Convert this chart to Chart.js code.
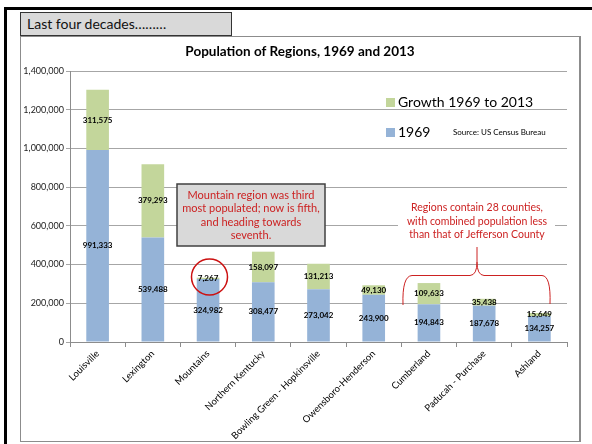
<!DOCTYPE html>
<html>
<head>
<meta charset="utf-8">
<script src="https://cdn.jsdelivr.net/npm/chart.js@4.4.1/dist/chart.umd.min.js"></script>
<style>
  body { margin: 0; width: 592px; height: 444px; overflow: hidden; background: #fff; font-family: Lato, sans-serif; }
  #outer { position: absolute; left: 4px; top: 7px; width: 620px; height: 460px; border-left: 3px solid #000; border-top: 3px solid #000; }
  #frame { position: absolute; left: 20px; top: 36px; width: 558px; height: 404px; border: 1px solid #8c8c8c; border-right-width: 2px; }
  #head { position: absolute; left: 20px; top: 12px; width: 212px; height: 24px; box-sizing: border-box; background: #d9d9d9; border: 1.5px solid #333; font-size: 14px; line-height: 21px; padding-left: 6px; color: #111; }
  #wrap { position: absolute; left: 0; top: 0; width: 592px; height: 444px; }
</style>
</head>
<body>
<div id="outer"></div>
<div id="frame"></div>
<div id="head">Last four decades………</div>
<div id="wrap"><canvas id="chart" width="592" height="444"></canvas></div>
<script>
const regions = ['Louisville', 'Lexington', 'Mountains', 'Northern Kentucky', 'Bowling Green - Hopkinsville',
  'Owensboro-Henderson', 'Cumberland', 'Paducah - Purchase', 'Ashland'];
const pop1969 = [991333, 539488, 324982, 308477, 273042, 243900, 194843, 187678, 134257];
const growth = [311575, 379293, 7267, 158097, 131213, 49130, 109633, 35438, 15649];

const fmt = v => v.toLocaleString('en-US');

// value labels in the middle of each segment
const valueLabels = {
  id: 'valueLabels',
  afterDatasetsDraw(chart) {
    const ctx = chart.ctx;
    ctx.save();
    ctx.font = 'bold 8px Lato';
    ctx.fillStyle = '#000';
    ctx.textAlign = 'center';
    ctx.textBaseline = 'middle';
    chart.data.datasets.forEach((ds, i) => {
      chart.getDatasetMeta(i).data.forEach((bar, j) => {
        const p = bar.getProps(['x', 'y', 'base'], true);
        ctx.fillText(fmt(ds.data[j]), p.x, (p.y + p.base) / 2);
      });
    });
    ctx.restore();
  }
};

// title, legend, notes
const extras = {
  id: 'extras',
  afterDraw(chart) {
    const ctx = chart.ctx;
    ctx.save();
    ctx.fillStyle = '#000';
    ctx.font = 'bold 13.5px Lato';
    ctx.textAlign = 'center';
    ctx.textBaseline = 'middle';
    ctx.fillText('Population of Regions, 1969 and 2013', 300, 52);

    // legend (growth first)
    const items = [chart.data.datasets[1], chart.data.datasets[0]];
    items.forEach((ds, k) => {
      const y = k === 0 ? 102 : 132;
      ctx.fillStyle = ds.backgroundColor;
      ctx.fillRect(386, y - 4, 9, 9);
      ctx.fillStyle = '#000';
      ctx.font = '14px Lato';
      ctx.textAlign = 'left';
      ctx.fillText(ds.label, 398, y);
    });
    ctx.font = '8px Lato';
    ctx.fillText('Source: US Census Bureau', 453, 132);

    // mountain note box
    ctx.fillStyle = '#d9d9d9';
    ctx.fillRect(177, 184, 148, 62);
    ctx.strokeStyle = '#404040';
    ctx.lineWidth = 1.5;
    ctx.strokeRect(177, 184, 148, 62);
    ctx.fillStyle = '#cc2222';
    ctx.font = '11px Lato';
    ctx.textAlign = 'center';
    ['Mountain region was third', 'most populated; now is fifth,', 'and heading towards', 'seventh.']
      .forEach((t, i) => ctx.fillText(t, 251, 195 + i * 13.5));

    // red circle around the mountains growth
    ctx.strokeStyle = '#cc1111';
    ctx.lineWidth = 1.5;
    ctx.beginPath();
    ctx.arc(209.5, 277, 18, 0, Math.PI * 2);
    ctx.stroke();

    // counties note
    ctx.fillStyle = '#fff';
    ctx.fillRect(398, 198, 157, 46);
    ctx.fillStyle = '#cc2222';
    ctx.font = '10.5px Lato';
    ['Regions contain 28 counties,', 'with combined population less', 'than that of Jefferson County']
      .forEach((t, i) => ctx.fillText(t, 477, 208 + i * 13.5));

    // curly brace
    ctx.strokeStyle = '#cc2222';
    ctx.lineWidth = 1;
    ctx.beginPath();
    ctx.moveTo(403, 305);
    ctx.quadraticCurveTo(402, 276, 412, 275.5);
    ctx.lineTo(470, 275.5);
    ctx.quadraticCurveTo(477, 275, 477, 262);
    ctx.lineTo(477, 247);
    ctx.moveTo(477, 262);
    ctx.quadraticCurveTo(477, 275, 484, 275.5);
    ctx.lineTo(542, 275.5);
    ctx.quadraticCurveTo(551, 276, 550, 304);
    ctx.stroke();
    ctx.restore();
  }
};

new Chart(document.getElementById('chart'), {
  type: 'bar',
  data: {
    labels: regions,
    datasets: [
      { label: '1969', data: pop1969, backgroundColor: '#95b3d7' },
      { label: 'Growth 1969 to 2013', data: growth, backgroundColor: '#c3d69b' }
    ]
  },
  options: {
    responsive: false,
    animation: false,
    events: [],
    layout: { padding: { left: 0, top: 71, right: 25, bottom: 0 } },
    categoryPercentage: 1,
    barPercentage: 0.41,
    plugins: { legend: { display: false }, title: { display: false }, tooltip: { enabled: false } },
    scales: {
      x: {
        stacked: true,
        afterFit: s => { s.height = 102; },
        border: { color: '#8c8c8c' },
        grid: { drawOnChartArea: false, color: '#8c8c8c', tickLength: 5 },
        ticks: { maxRotation: 45, minRotation: 45, autoSkip: false, color: '#000', font: { family: 'Lato', size: 9.5 }, padding: 1 }
      },
      y: {
        stacked: true,
        min: 0,
        max: 1400000,
        afterFit: s => { s.width = 70; },
        border: { color: '#8c8c8c' },
        grid: { color: '#a6a6a6', tickLength: 4 },
        ticks: { stepSize: 200000, callback: v => fmt(v), color: '#222', font: { family: 'Lato', size: 9 }, padding: 2 }
      }
    }
  },
  plugins: [valueLabels, extras]
});
</script>
</body>
</html>
